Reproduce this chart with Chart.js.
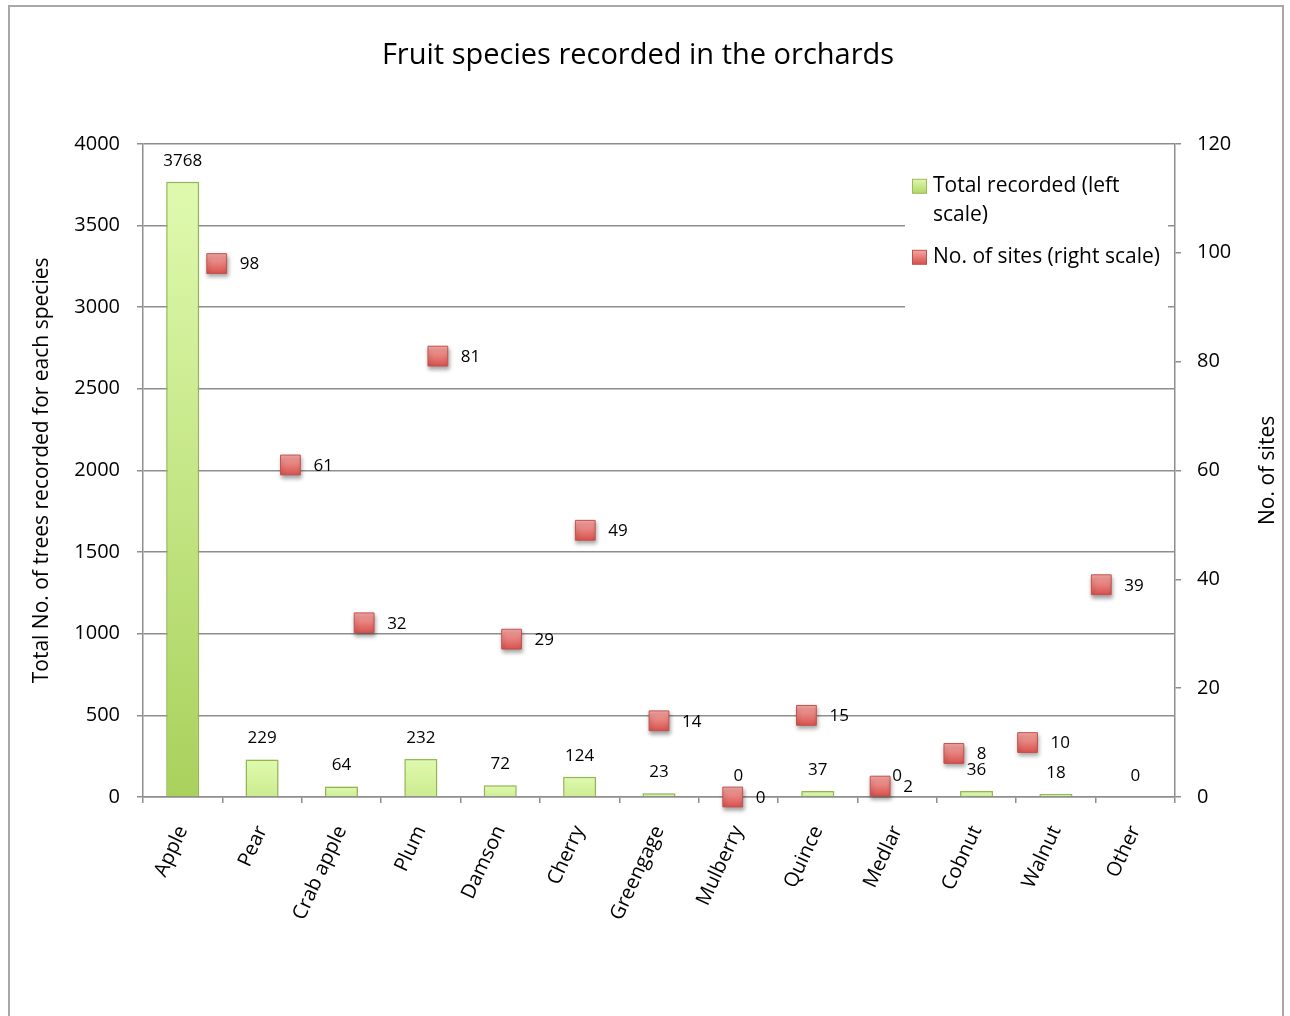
<!DOCTYPE html>
<html>
<head>
<meta charset="utf-8">
<script src="https://cdn.jsdelivr.net/npm/chart.js"></script>
<style>
  html, body { margin: 0; padding: 0; background: #fff; }
  #wrap { width: 1290px; height: 1016px; }
</style>
</head>
<body>
<div id="wrap"><canvas id="chart" width="1290" height="1016"></canvas></div>
<script>
// data
const species = ['Apple', 'Pear', 'Crab apple', 'Plum', 'Damson', 'Cherry', 'Greengage',
  'Mulberry', 'Quince', 'Medlar', 'Cobnut', 'Walnut', 'Other'];
const totalRecorded = [3768, 229, 64, 232, 72, 124, 23, 0, 37, 0, 36, 18, 0];
const siteCounts = [98, 61, 32, 81, 29, 49, 14, 0, 15, 2, 8, 10, 39];
const leftTicks = [0, 500, 1000, 1500, 2000, 2500, 3000, 3500, 4000];
const rightTicks = [0, 20, 40, 60, 80, 100, 120];

const FONT = "'Open Sans', sans-serif";
const gridColor = '#8e8e8e';

Chart.defaults.font.family = FONT;
Chart.defaults.color = '#000';

function mix(a, b, t) {
  const pa = [1, 3, 5].map(i => parseInt(a.substr(i, 2), 16));
  const pb = [1, 3, 5].map(i => parseInt(b.substr(i, 2), 16));
  return 'rgb(' + pa.map((v, i) => Math.round(v + (pb[i] - v) * t)).join(',') + ')';
}

function barFill(c) {
  const chart = c.chart;
  if (!chart.chartArea || c.type !== 'data') return '#d4f09a';
  const y = chart.scales.y;
  const top = y.getPixelForValue(c.raw);
  const bottom = y.getPixelForValue(0);
  if (bottom - top < 1) return '#dffaae';
  const g = chart.ctx.createLinearGradient(0, top, 0, bottom);
  g.addColorStop(0, '#dffaae');
  g.addColorStop(1, mix('#dffaae', '#a9d15c', Math.min(1, 0.3 + (bottom - top) / 620)));
  return g;
}

function pointFill(c) {
  const chart = c.chart;
  if (!chart.chartArea || c.type !== 'data') return '#e57b78';
  const py = chart.scales.y2.getPixelForValue(c.raw.y);
  const g = chart.ctx.createLinearGradient(0, py - 10, 0, py + 10);
  g.addColorStop(0, '#f6aaa7');
  g.addColorStop(1, '#d8524e');
  return g;
}

// frame, legend box, value labels and the right axis title
const decorations = {
  id: 'decorations',
  beforeDraw(chart) {
    const ctx = chart.ctx;
    ctx.save();
    ctx.fillStyle = '#fff';
    ctx.fillRect(0, 0, chart.width, chart.height);
    ctx.strokeStyle = '#a8a8a8';
    ctx.lineWidth = 2;
    ctx.strokeRect(9, 6, 1274, 1200);
    ctx.restore();
  },
  beforeDatasetsDraw(chart) {
    const ctx = chart.ctx;
    const a = chart.chartArea;
    const lx = a.right - 270;
    ctx.save();
    ctx.fillStyle = '#fff';
    ctx.fillRect(lx, a.top + 22, 263, 144);
    // green key
    let g = ctx.createLinearGradient(0, a.top + 35, 0, a.top + 49);
    g.addColorStop(0, '#dffaae'); g.addColorStop(1, '#b4d86c');
    ctx.fillStyle = g;
    ctx.fillRect(lx + 7.5, a.top + 35.5, 14, 14);
    ctx.strokeStyle = '#9bbb59'; ctx.lineWidth = 1;
    ctx.strokeRect(lx + 7.5, a.top + 35.5, 14, 14);
    // red key
    g = ctx.createLinearGradient(0, a.top + 106, 0, a.top + 120);
    g.addColorStop(0, '#f6aaa7'); g.addColorStop(1, '#d8524e');
    ctx.fillStyle = g;
    ctx.fillRect(lx + 7.5, a.top + 106.5, 14, 14);
    ctx.strokeStyle = '#c0504d';
    ctx.strokeRect(lx + 7.5, a.top + 106.5, 14, 14);
    ctx.fillStyle = '#000';
    ctx.font = '21px ' + FONT;
    ctx.textAlign = 'left'; ctx.textBaseline = 'middle';
    ctx.fillText('Total recorded (left', lx + 28, a.top + 42);
    ctx.fillText('scale)', lx + 28, a.top + 71);
    ctx.fillText('No. of sites (right scale)', lx + 28, a.top + 113);
    ctx.restore();
  },
  beforeDatasetDraw(chart, args) {
    const ctx = chart.ctx;
    ctx.save();
    if (args.index === 1) {
      ctx.shadowColor = 'rgba(0,0,0,0.35)';
      ctx.shadowBlur = 4;
      ctx.shadowOffsetX = 1;
      ctx.shadowOffsetY = 3;
    } else {
      ctx.shadowColor = 'rgba(0,0,0,0.18)';
      ctx.shadowBlur = 3;
    }
  },
  afterDatasetDraw(chart) {
    chart.ctx.restore();
  },
  afterDatasetsDraw(chart) {
    const ctx = chart.ctx;
    ctx.save();
    ctx.fillStyle = '#000';
    ctx.font = '17px ' + FONT;
    ctx.textBaseline = 'middle';
    ctx.textAlign = 'center';
    chart.getDatasetMeta(0).data.forEach((el, i) => {
      ctx.fillText(String(totalRecorded[i]), el.x, el.y - 21);
    });
    ctx.textAlign = 'left';
    chart.getDatasetMeta(1).data.forEach((el, i) => {
      ctx.fillText(String(siteCounts[i]), el.x + 23, el.y + 1);
    });
    // right axis title, reading bottom to top
    const a = chart.chartArea;
    ctx.font = '21px ' + FONT;
    ctx.textAlign = 'center';
    ctx.translate(chart.scales.y2.right - 8, (a.top + a.bottom) / 2);
    ctx.rotate(-Math.PI / 2);
    ctx.fillText('No. of sites', 0, 0);
    ctx.restore();
  }
};

new Chart(document.getElementById('chart'), {
  type: 'bar',
  data: {
    labels: species,
    datasets: [
      {
        label: 'Total recorded (left scale)',
        data: totalRecorded,
        backgroundColor: barFill,
        borderColor: '#97c050',
        borderWidth: 1.5,
        grouped: false,
        barPercentage: 0.52,
        categoryPercentage: 0.8,
        xAxisID: 'x',
        yAxisID: 'y',
        order: 2
      },
      {
        type: 'line',
        label: 'No. of sites (right scale)',
        data: siteCounts.map((v, i) => ({ x: i, y: v })),
        showLine: false,
        clip: false,
        pointStyle: 'rect',
        pointRadius: 14,
        pointHoverRadius: 14,
        pointBackgroundColor: pointFill,
        pointBorderColor: '#c4504c',
        pointBorderWidth: 1,
        xAxisID: 'x2',
        yAxisID: 'y2',
        order: 1
      }
    ]
  },
  options: {
    responsive: false,
    animation: false,
    layout: { padding: { left: 0, right: 14, top: 0, bottom: 0 } },
    plugins: {
      legend: { display: false },
      tooltip: { enabled: false },
      title: {
        display: true,
        text: 'Fruit species recorded in the orchards',
        font: { size: 29, weight: 'normal' },
        color: '#000',
        padding: { top: 38, bottom: 71 }
      }
    },
    scales: {
      x: {
        type: 'category',
        offset: true,
        grid: { offset: true, drawOnChartArea: false, tickLength: 6, color: gridColor, lineWidth: 1.5 },
        border: { color: gridColor, width: 1.5 },
        ticks: { minRotation: 65, maxRotation: 65, autoSkip: false, padding: 19, font: { size: 20 }, color: '#000' },
        afterFit: s => { s.height = 219; }
      },
      x2: {
        type: 'linear',
        display: false,
        offset: false,
        grid: { offset: false },
        min: -1,
        max: species.length
      },
      y: {
        position: 'left',
        min: leftTicks[0],
        max: leftTicks[leftTicks.length - 1],
        afterBuildTicks: s => { s.ticks = leftTicks.map(v => ({ value: v })); },
        ticks: { padding: 17, font: { size: 20 }, color: '#000', callback: v => String(v) },
        grid: { color: gridColor, lineWidth: 1.5, tickLength: 6 },
        border: { color: gridColor, width: 1.5 },
        title: {
          display: true,
          text: 'Total No. of trees recorded for each species',
          font: { size: 21 },
          color: '#000',
          padding: { top: 29, bottom: 4 }
        },
        afterFit: s => { s.width = 143; }
      },
      y2: {
        position: 'right',
        min: rightTicks[0],
        max: rightTicks[rightTicks.length - 1],
        afterBuildTicks: s => { s.ticks = rightTicks.map(v => ({ value: v })); },
        ticks: { padding: 16, font: { size: 20 }, color: '#000', callback: v => String(v) },
        grid: { drawOnChartArea: false, color: gridColor, lineWidth: 1.5, tickLength: 6 },
        border: { color: gridColor, width: 1.5 },
        afterFit: s => { s.width = 101; }
      }
    }
  },
  plugins: [decorations]
});
</script>
</body>
</html>
